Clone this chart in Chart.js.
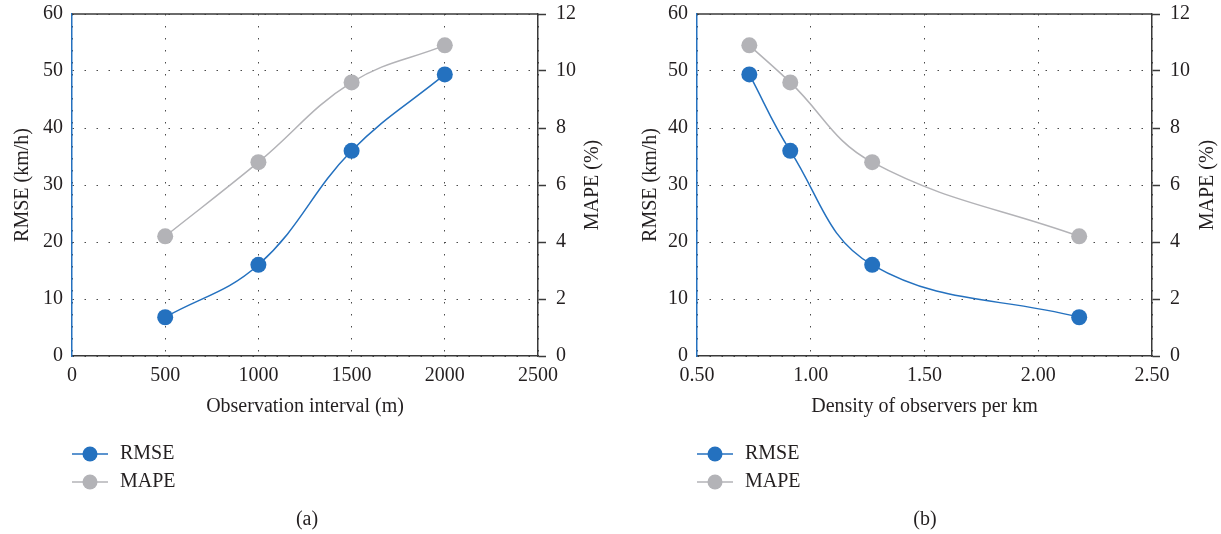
<!DOCTYPE html>
<html>
<head>
<meta charset="utf-8">
<script src="https://cdn.jsdelivr.net/npm/chart.js@4.4.0/dist/chart.umd.min.js"></script>
<style>
  html, body { margin: 0; padding: 0; background: #fff; }
  #wrap { position: relative; width: 1221px; height: 534px; overflow: hidden; }
  canvas { position: absolute; top: 0; }
</style>
</head>
<body>
<div id="wrap">
  <canvas id="chartA" width="610" height="534" style="left:0"></canvas>
  <canvas id="chartB" width="611" height="534" style="left:610px"></canvas>
</div>
<script>
// observation spacing (m) and the matching observer density (per km)
var intervals = [500, 1000, 1500, 2000];
var densities = [2.18, 1.27, 0.91, 0.73];
var rmseValues = [6.8, 16, 36, 49.4];
var mapeValues = [4.2, 6.8, 9.6, 10.9];
var seriesNames = ["RMSE", "MAPE"];
var captions = ["(a)", "(b)"];

var textColor = "#231f20";
var blue = "#2471bf";
var grey = "#b3b3b7";
var axisDark = "#3a3a3a";
var fontFamily = "'Liberation Serif', 'Times New Roman', serif";
var fontSize = 20;

var makePoints = (xs, ys) => xs.map((x, i) => ({ x: x, y: ys[i] }));

// top edge of the box, the upward-reading right title, legend and caption
var framePlugin = {
    id: "frame",
    afterDraw(chart, args, opts) {
        const ctx = chart.ctx;
        const area = chart.chartArea;
        ctx.save();
        ctx.strokeStyle = axisDark;
        ctx.lineWidth = 1.5;
        ctx.beginPath();
        ctx.moveTo(area.left, area.top);
        ctx.lineTo(area.right, area.top);
        ctx.stroke();

        ctx.fillStyle = textColor;
        ctx.font = fontSize + "px " + fontFamily;
        ctx.textAlign = "center";
        ctx.textBaseline = "middle";
        ctx.save();
        ctx.translate(opts.rightTitleX, (area.top + area.bottom) / 2);
        ctx.rotate(-Math.PI / 2);
        ctx.fillText(opts.rightTitle, 0, 0);
        ctx.restore();

        chart.data.datasets.forEach((ds, i) => {
            const y = opts.legendY + i * 28;
            const x = opts.legendX;
            ctx.strokeStyle = ds.borderColor;
            ctx.lineWidth = 1.5;
            ctx.beginPath();
            ctx.moveTo(x, y);
            ctx.lineTo(x + 36, y);
            ctx.stroke();
            ctx.fillStyle = ds.backgroundColor;
            ctx.beginPath();
            ctx.arc(x + 18, y, 7.5, 0, Math.PI * 2);
            ctx.fill();
            ctx.fillStyle = textColor;
            ctx.textAlign = "left";
            ctx.fillText(ds.label, x + 48, y);
        });

        ctx.textAlign = "center";
        ctx.fillText(opts.caption, opts.captionX, 520);
        ctx.restore();
    }
};

// fixed box sizes so both panels line up; label overhang is ignored
var fixWidth = (w) => (scale) => {
    scale.width = w;
    scale.paddingTop = 0;
    scale.paddingBottom = 0;
};

var generateConfig = (xs, xScale, layout) => {
    const tickFont = { family: fontFamily, size: fontSize };
    return {
        type: "line",
        data: {
            datasets: [{
                label: seriesNames[0],
                data: makePoints(xs, rmseValues),
                yAxisID: "y",
                borderColor: blue,
                backgroundColor: blue,
                borderWidth: 1.5,
                pointRadius: 8,
                pointBorderWidth: 0,
                tension: 0.4
            },
            {
                label: seriesNames[1],
                data: makePoints(xs, mapeValues),
                yAxisID: "y2",
                borderColor: grey,
                backgroundColor: grey,
                borderWidth: 1.5,
                pointRadius: 8,
                pointBorderWidth: 0,
                tension: 0.4
            }]
        },
        options: {
            responsive: false,
            animation: false,
            events: [],
            layout: { padding: { left: 0, right: 0, top: 14, bottom: 114 } },
            plugins: {
                legend: { display: false },
                tooltip: { enabled: false },
                frame: layout.frame
            },
            scales: {
                x: {
                    type: "linear",
                    min: xScale.min,
                    max: xScale.max,
                    ticks: {
                        stepSize: xScale.step,
                        padding: 8,
                        color: textColor,
                        font: tickFont,
                        callback: xScale.format
                    },
                    grid: { color: "#4a4a4a", lineWidth: 1, drawTicks: false },
                    border: { color: axisDark, width: 1.5, dash: [1.5, 10.5] },
                    title: {
                        display: true,
                        text: xScale.title,
                        color: textColor,
                        font: tickFont,
                        padding: { top: 0, bottom: 1 }
                    },
                    afterFit: (scale) => {
                        scale.height = 64;
                        scale.paddingLeft = 0;
                        scale.paddingRight = 0;
                    }
                },
                y: {
                    position: "left",
                    min: 0,
                    max: 60,
                    ticks: { stepSize: 10, padding: 9, color: textColor, font: tickFont },
                    grid: { color: "#4a4a4a", lineWidth: 1, drawTicks: false },
                    border: { color: blue, width: 1.5, dash: [1.5, 10.5] },
                    title: {
                        display: true,
                        text: "RMSE (km/h)",
                        color: textColor,
                        font: tickFont,
                        padding: { top: layout.leftTitlePad, bottom: 0 }
                    },
                    afterFit: fixWidth(layout.leftWidth)
                },
                y2: {
                    position: "right",
                    min: 0,
                    max: 12,
                    ticks: { stepSize: 2, padding: 10, color: textColor, font: tickFont },
                    grid: {
                        drawOnChartArea: false,
                        drawTicks: true,
                        tickLength: 8,
                        tickColor: axisDark,
                        tickWidth: 1.5
                    },
                    border: { color: axisDark, width: 1.5 },
                    afterFit: fixWidth(layout.rightWidth)
                }
            }
        },
        plugins: [framePlugin]
    };
};

new Chart(document.getElementById("chartA").getContext("2d"), generateConfig(
    intervals,
    { min: 0, max: 2500, step: 500, title: "Observation interval (m)", format: (v) => v },
    {
        leftWidth: 72,
        rightWidth: 72,
        leftTitlePad: 11,
        frame: { rightTitle: "MAPE (%)", rightTitleX: 593, legendX: 72, legendY: 454, caption: captions[0], captionX: 307 }
    }
));

new Chart(document.getElementById("chartB").getContext("2d"), generateConfig(
    densities,
    { min: 0.5, max: 2.5, step: 0.5, title: "Density of observers per km", format: (v) => Number(v).toFixed(2) },
    {
        leftWidth: 87,
        rightWidth: 69,
        leftTitlePad: 29,
        frame: { rightTitle: "MAPE (%)", rightTitleX: 598, legendX: 87, legendY: 454, caption: captions[1], captionX: 315 }
    }
));
</script>
</body>
</html>
